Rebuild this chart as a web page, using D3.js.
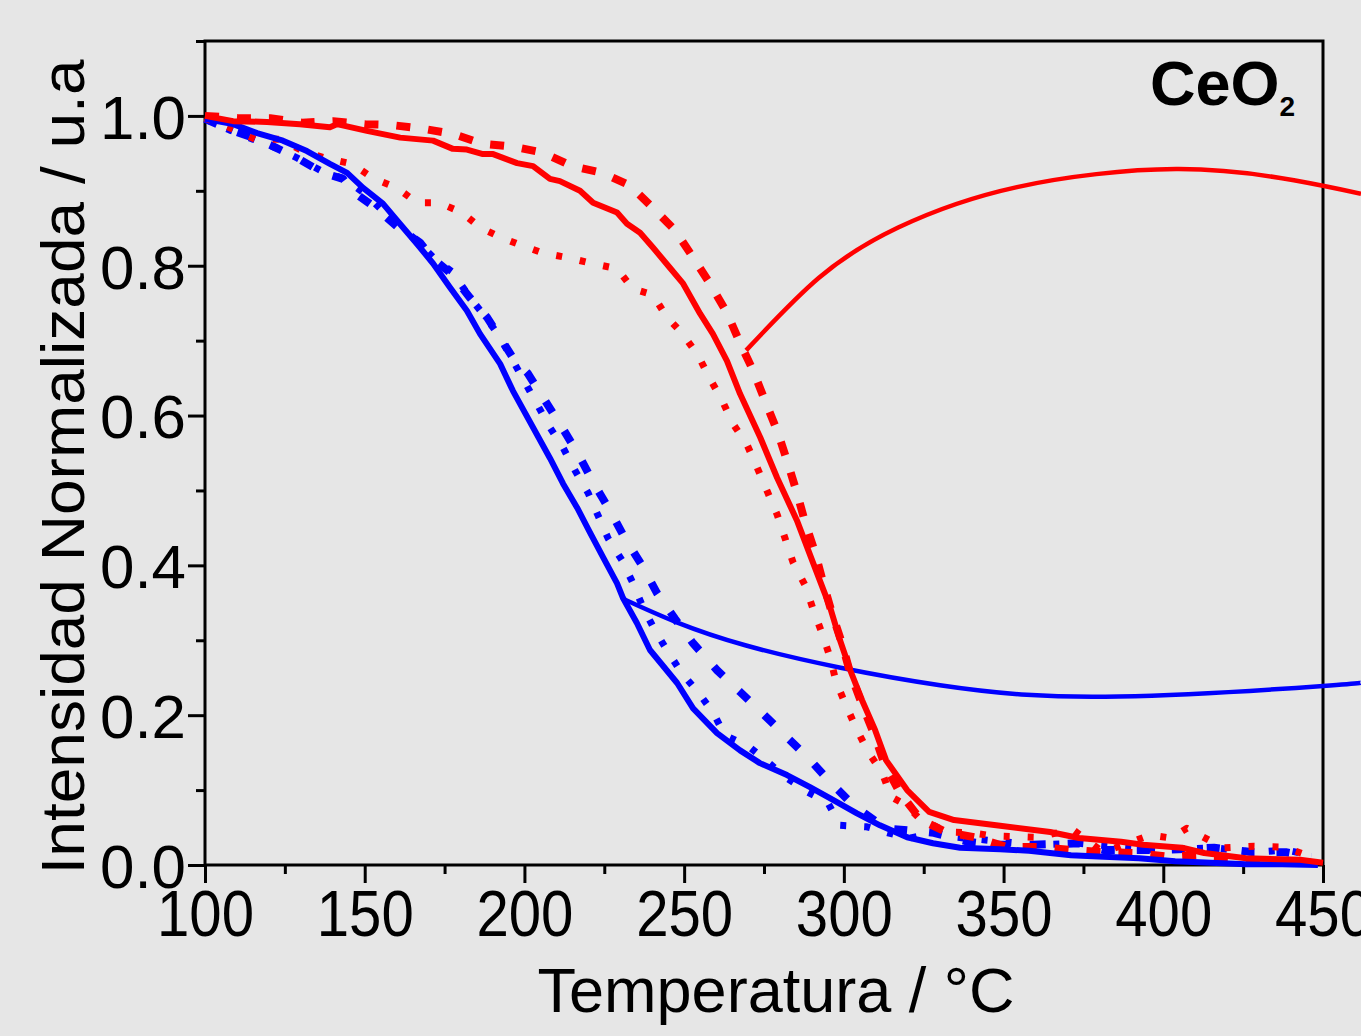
<!DOCTYPE html>
<head>
<meta charset="utf-8">
<script src="https://d3js.org/d3.v7.min.js"></script>
<style>
  body { margin: 0; background: #e6e6e6; }
  text { font-family: "Liberation Sans", Arial, sans-serif; }
</style>
</head>
<body>
<div id="chart"></div>
<script>
// temperature (°C) / normalized intensity
var redSolidT = [100,108.8,119.4,129.7,139.1,141.3,150.7,161.1,171.4,177.6,182,187,190.2,197.7,202.7,208,211.1,217.4,221.5,229,232.1,236.2,240.3,245.6,249.7,255,259,263.4,267.5,273.8,279.1,285.3,290.4,295.7,298.8,302,305.7,309.8,313.2,319.8,326.7,334.5,347.7,364.6,373.6,386.8,393.7,405.9,412.8,425.9,442.8,450];
var redSolidI = [1.0,0.993,0.992,0.989,0.985,0.989,0.98,0.971,0.967,0.956,0.955,0.949,0.949,0.937,0.933,0.916,0.913,0.9,0.884,0.871,0.856,0.844,0.824,0.797,0.776,0.736,0.709,0.673,0.629,0.571,0.517,0.46,0.403,0.344,0.3,0.26,0.22,0.18,0.14,0.1,0.071,0.06,0.053,0.044,0.036,0.031,0.027,0.023,0.016,0.009,0.007,0.003];

var redDashT = [100,110.3,120.4,130.4,140.1,150.1,157.9,168,177.6,186.7,196.4,205.8,214.9,224.3,233.1,240.3,247.2,252.8,258.1,263.4,267.5,271.6,275.3,279.1,282.2,285.3,287.9,291,293.5,296.3,299.4,302,306,309.8,312.6,317.6,324.2,332,341.1,351.1,361.1,371.1,381.5,391.5,401.5,410.3,419.3,430.6,439.4,446.3];
var redDashI = [1.0,0.997,0.997,0.991,0.993,0.989,0.988,0.983,0.976,0.963,0.959,0.951,0.933,0.924,0.907,0.877,0.847,0.811,0.776,0.737,0.697,0.66,0.62,0.58,0.54,0.497,0.457,0.417,0.377,0.336,0.296,0.256,0.211,0.171,0.136,0.096,0.06,0.044,0.037,0.024,0.024,0.02,0.017,0.016,0.011,0.013,0.009,0.004,0.003,0.003];

var redDotT = [100,108.5,115.7,123.5,130.7,138.2,146,152.6,160.1,166.4,173.3,180.5,186.1,193,199.2,205.8,213.3,221.2,229,234,240.3,244.3,249.7,254.4,258.1,261.9,265.3,269.7,272.8,276,279.1,281.6,284.1,287.9,290.4,293.2,295.7,297.6,300.7,303.8,307.6,312,314.8,319.5,323.2,332,340.1,346.4,359.5,371.8,381.2,395.9,402.4,407.4,418.7,428.4,437.8,445];
var redDotI = [0.997,0.983,0.969,0.969,0.953,0.943,0.936,0.917,0.904,0.884,0.884,0.871,0.851,0.837,0.827,0.817,0.811,0.803,0.796,0.769,0.761,0.733,0.708,0.68,0.649,0.62,0.589,0.561,0.531,0.499,0.468,0.436,0.404,0.373,0.341,0.309,0.277,0.244,0.213,0.183,0.151,0.123,0.091,0.08,0.064,0.044,0.043,0.039,0.037,0.047,0.017,0.04,0.036,0.049,0.023,0.025,0.024,0.013];

var blueSolidT = [100,108.8,116.3,124.4,131.9,139.1,144.5,149.5,155.7,161,166.4,171.4,176.7,182,186.1,192.4,196.4,208,212.1,216.5,220.5,224.6,229,230.9,235.2,239.3,242.4,247.8,252.8,260.3,267.5,273.7,282.2,289.4,296.6,304.1,311.3,319.8,327.9,336.4,348.9,358,371.1,381.4,392.4,403.7,414.9,425.9,437.2,448.4];
var blueSolidI = [0.996,0.989,0.977,0.967,0.953,0.936,0.924,0.904,0.883,0.856,0.829,0.803,0.771,0.74,0.709,0.669,0.633,0.543,0.509,0.477,0.444,0.411,0.376,0.356,0.323,0.287,0.271,0.243,0.209,0.176,0.153,0.136,0.12,0.104,0.087,0.069,0.053,0.037,0.029,0.023,0.021,0.019,0.013,0.011,0.009,0.005,0.003,0.001,0.001,0.0];

var blueDashT = [100,108.8,115,121,128.8,136.9,143.2,146,153.8,161,167.3,171.4,176.7,183,188.3,192.4,196.4,201.1,211.8,216.8,221.5,226.8,231.5,236.8,241.5,247.1,252.8,260.3,267.5,274.4,281.6,288.8,295.7,302.9,313,328.2,338.9,347.6,358.9,373.6,381.4,398,415.9,428.4,438.4,446.3];
var blueDashI = [0.996,0.98,0.971,0.96,0.944,0.924,0.916,0.9,0.876,0.849,0.831,0.809,0.791,0.757,0.731,0.704,0.677,0.656,0.584,0.549,0.511,0.473,0.436,0.4,0.363,0.329,0.296,0.26,0.231,0.203,0.173,0.143,0.111,0.08,0.049,0.043,0.031,0.027,0.027,0.029,0.02,0.02,0.023,0.017,0.017,0.011];

var blueDotT = [100,107.8,115,122.5,128.8,137.6,143.8,150.1,161,165.7,172,177.6,183,188.3,192.4,208,212.1,215.8,219.9,223,226.2,230.5,234,237.1,240.9,245,249.3,254.3,259,262.8,270,276.3,282.2,288.8,295,298.8,307.2,313.8,320.7,328.5,335.4,360.2,373.6,398,415.9,428.4,438.4,446.3];
var blueDotI = [0.996,0.981,0.969,0.957,0.944,0.924,0.916,0.896,0.851,0.836,0.809,0.791,0.757,0.729,0.704,0.584,0.557,0.527,0.497,0.467,0.436,0.407,0.376,0.344,0.313,0.284,0.256,0.231,0.204,0.173,0.159,0.137,0.116,0.097,0.083,0.053,0.051,0.043,0.036,0.043,0.037,0.027,0.029,0.02,0.023,0.017,0.02,0.013];

// leader curves running off to the right edge
var redArcT = [269.4,292.2,317,354.2,404,440.9,461.9];
var redArcI = [0.687,0.784,0.851,0.905,0.929,0.914,0.896];
var blueArcT = [230.5,269.4,330.1,386.1,450,461.9];
var blueArcI = [0.356,0.293,0.24,0.225,0.239,0.244];

var xMajor = [100,150,200,250,300,350,400,450];
var xMinor = [125,175,225,275,325,375,425];
var yMajor = [0.0,0.2,0.4,0.6,0.8,1.0];
var yMinor = [0.1,0.3,0.5,0.7,0.9,1.1];

var W = 1361, H = 1036;
var margin = {top: 41, right: 38, bottom: 171, left: 205};
var width = W - margin.left - margin.right,
    height = H - margin.top - margin.bottom;

var svg = d3.select("#chart").append("svg")
    .attr("width", W).attr("height", H)
    .style("display", "block");
svg.append("rect").attr("width", W).attr("height", H).attr("fill", "#e6e6e6");

var g = svg.append("g")
    .attr("transform", "translate(" + margin.left + "," + margin.top + ")");

var x = d3.scaleLinear().domain([100, 450]).range([0, width]);
var y = d3.scaleLinear().domain([0, 1.1]).range([height, 0]);

// minor ticks
g.append("g").attr("transform", "translate(0," + height + ")")
  .call(d3.axisBottom(x).tickValues(xMinor).tickSize(9).tickSizeOuter(0).tickFormat(""))
  .call(a => a.select(".domain").remove())
  .call(a => a.selectAll("line").attr("stroke-width", 3));
g.append("g")
  .call(d3.axisLeft(y).tickValues(yMinor).tickSize(9).tickSizeOuter(0).tickFormat(""))
  .call(a => a.select(".domain").remove())
  .call(a => a.selectAll("line").attr("stroke-width", 3));

// major ticks + labels
var xa = g.append("g").attr("transform", "translate(0," + height + ")")
  .call(d3.axisBottom(x).tickValues(xMajor).tickSize(18).tickSizeOuter(0).tickPadding(10).tickFormat(d3.format("d")));
xa.select(".domain").remove();
xa.selectAll("line").attr("stroke-width", 3);
xa.selectAll("text")
  .attr("font-size", 64).attr("fill", "#000")
  .attr("font-family", "Liberation Sans, Arial, sans-serif")
  .attr("dy", "0.73em").attr("y", 24)
  .attr("textLength", 97).attr("lengthAdjust", "spacingAndGlyphs");

var ya = g.append("g")
  .call(d3.axisLeft(y).tickValues(yMajor).tickSize(17).tickSizeOuter(0).tickPadding(2).tickFormat(d3.format(".1f")));
ya.select(".domain").remove();
ya.selectAll("line").attr("stroke-width", 3);
ya.selectAll("text")
  .attr("font-size", 62).attr("fill", "#000")
  .attr("font-family", "Liberation Sans, Arial, sans-serif")
  .attr("x", -19).attr("dy", "0.36em")
  .attr("textLength", 86).attr("lengthAdjust", "spacingAndGlyphs");

// frame
g.append("rect")
  .attr("width", width).attr("height", height)
  .attr("fill", "none").attr("stroke", "#000").attr("stroke-width", 3);

function pts(T, I) { return T.map(function(t, i) { return [t, I[i]]; }); }

var line = d3.line().x(d => x(d[0])).y(d => y(d[1]));
var arc = d3.line().x(d => x(d[0])).y(d => y(d[1])).curve(d3.curveNatural);

// leader curves
g.append("path").attr("d", arc(pts(redArcT, redArcI)))
  .attr("fill", "none").attr("stroke", "#ff0000").attr("stroke-width", 4.5);
g.append("path").attr("d", arc(pts(blueArcT, blueArcI)))
  .attr("fill", "none").attr("stroke", "#0000ff").attr("stroke-width", 4.5);

var series = [
  {T: blueDotT,  I: blueDotI,  c: "#0000ff", w: 7, dash: "6,18"},
  {T: blueDashT, I: blueDashI, c: "#0000ff", w: 8, dash: "13,22"},
  {T: redDotT,   I: redDotI,   c: "#ff0000", w: 7, dash: "6,18"},
  {T: redDashT,  I: redDashI,  c: "#ff0000", w: 8, dash: "14,18"},
  {T: blueSolidT,I: blueSolidI,c: "#0000ff", w: 6, dash: null},
  {T: redSolidT, I: redSolidI, c: "#ff0000", w: 6, dash: null}
];
series.forEach(function(s) {
  g.append("path")
    .attr("d", line(pts(s.T, s.I)))
    .attr("fill", "none")
    .attr("stroke", s.c)
    .attr("stroke-width", s.w)
    .attr("stroke-linejoin", "round")
    .attr("stroke-dasharray", s.dash);
});

// labels
var lab = svg.append("text").attr("x", 1150).attr("y", 105)
  .attr("font-size", 63).attr("font-weight", "bold").attr("fill", "#000");
lab.append("tspan").text("CeO");
lab.append("tspan").attr("font-size", 28).attr("dy", 11).text("2");

svg.append("text")
  .attr("x", 776).attr("y", 1012)
  .attr("text-anchor", "middle")
  .attr("font-size", 63).attr("fill", "#000")
  .text("Temperatura / °C");

svg.append("text")
  .attr("transform", "translate(84,467) rotate(-90)")
  .attr("text-anchor", "middle")
  .attr("font-size", 62).attr("fill", "#000")
  .attr("textLength", 815).attr("lengthAdjust", "spacingAndGlyphs")
  .text("Intensidad Normalizada / u.a");
</script>
</body>
